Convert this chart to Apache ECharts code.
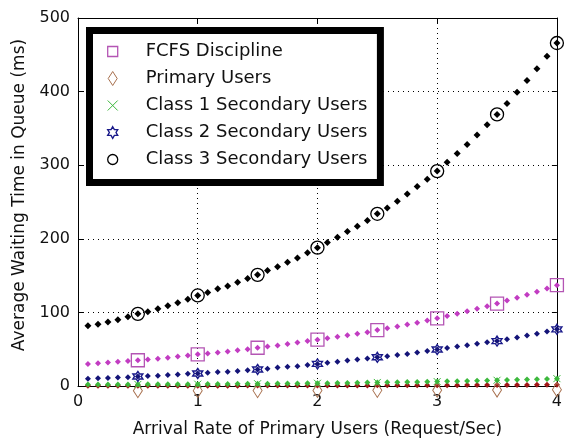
<!DOCTYPE html>
<html>
<head>
<meta charset="utf-8">
<script src="https://cdn.jsdelivr.net/npm/echarts@6/dist/echarts.min.js"></script>
<style>
html,body{margin:0;padding:0;background:#fff;}
#chart{width:565px;height:444px;}
</style>
</head>
<body>
<div id="chart"></div>
<script>
// Sample positions along x (arrival rate)
const xValues = [0.083,0.167,0.25,0.333,0.417,0.5,0.583,0.667,0.75,0.833,0.917,1,
  1.083,1.167,1.25,1.333,1.417,1.5,1.583,1.667,1.75,1.833,1.917,2,
  2.083,2.167,2.25,2.333,2.417,2.5,2.583,2.667,2.75,2.833,2.917,3,
  3.083,3.167,3.25,3.333,3.417,3.5,3.583,3.667,3.75,3.833,3.917,4];

const fcfs = [30,31,32,33,34,35, 36,37,38.5,40,41.5,43,
  44,45.5,47,48.5,50,52, 53.5,55,57,59,61,63,
  65,67,69,71,73,76, 78.5,81,83.5,86,89,92,
  95,98,101.5,105,108.5,112, 116,120,124,128,132.5,137];

const primary = [0.3,0.3,0.3,0.3,0.3,0.35, 0.35,0.35,0.4,0.4,0.4,0.45,
  0.45,0.5,0.5,0.5,0.55,0.55, 0.6,0.6,0.6,0.65,0.65,0.7,
  0.7,0.75,0.75,0.8,0.8,0.85, 0.9,0.9,0.95,1,1,1.05,
  1.1,1.15,1.2,1.25,1.3,1.35, 1.4,1.45,1.5,1.6,1.7,1.8];

const class1 = [2,2,2,2,2,2.2, 2.3,2.3,2.4,2.4,2.5,2.5,
  2.6,2.7,2.8,2.9,3,3.1, 3.2,3.3,3.4,3.5,3.6,3.7,
  3.9,4,4.2,4.4,4.6,4.8, 5,5.2,5.4,5.6,5.8,6,
  6.3,6.6,6.9,7.2,7.5,7.8, 8.1,8.4,8.8,9.2,9.6,10];

const class2 = [10,10.5,11,11.5,12,13, 13.5,14,15,15.5,16.5,17,
  18,19,19.5,20.5,21.5,22.5, 23.5,25,26,27,28.5,30,
  31.5,33,34.5,36,37.5,39, 40.5,42,43.5,45.5,47.5,49.5,
  51.5,53.5,55.5,57.5,59.5,61, 63.5,66,68.5,71,74,77];

const class3 = [82,84,87,90,94,98, 101,105,109,113,118,123,
  127,132,136,141,146,151, 157,162,168,174,181,188,
  195,202,210,217,225,234, 242,251,261,271,281,292,
  304,316,328,341,355,369, 384,399,415,431,448,466];

// indices of the samples that carry the big markers (x = 0.5, 1, ..., 4)
const markerIdx = [5,11,17,23,29,35,41,47];

const seriesNames = ['FCFS Discipline','Primary Users','Class 1 Secondary Users','Class 2 Secondary Users','Class 3 Secondary Users'];

const FONT = 'DejaVu Sans';
const sqPath = 'path://M-5,-5L5,-5L5,5L-5,5Z';
const diaPath = 'path://M0,-7L4.5,0L0,7L-4.5,0Z';
const xPath = 'path://M-5,-5L5,5M5,-5L-5,5';
const hexPath = 'path://M0,-10L2.887,-5L8.66,-5L5.77,0L8.66,5L2.887,5L0,10L-2.887,5L-8.66,5L-5.77,0L-8.66,-5L-2.887,-5Z';

const styles = [
  {vals: fcfs, dot: '#c23cc2', dotSize: 6, mk: '#b455b4', sym: sqPath, size: 13, bw: 1.3},
  {vals: primary, dot: '#a01818', dotSize: 6, mk: '#a8704e', sym: diaPath, size: [9,14], bw: 1, offset: [0,5]},
  {vals: class1, dot: '#3cb83c', dotSize: 6, mk: '#3cb83c', sym: xPath, size: 7, bw: 1},
  {vals: class2, dot: '#141478', dotSize: 6, mk: '#1a1a8a', sym: hexPath, size: 10, bw: 1.4},
  {vals: class3, dot: '#000000', dotSize: 7, mk: '#000000', sym: 'circle', size: 13, bw: 1.3}
];

const series = [];
styles.forEach((s, i) => {
  series.push({
    name: seriesNames[i] + ' (curve)',
    type: 'scatter',
    data: xValues.map((x, j) => [x, s.vals[j]]),
    symbol: 'diamond',
    symbolSize: s.dotSize,
    itemStyle: {color: s.dot, opacity: 1},
    z: 2 + i * 2,
    clip: false,
    silent: true
  });
  series.push({
    name: seriesNames[i],
    type: 'scatter',
    data: markerIdx.map(j => [xValues[j], s.vals[j]]),
    symbol: s.sym,
    symbolSize: s.size,
    symbolOffset: s.offset || [0,0],
    itemStyle: {color: 'rgba(0,0,0,0)', borderColor: s.mk, borderWidth: s.bw, opacity: 1},
    z: 3 + i * 2,
    clip: false,
    silent: true
  });
});

const legendIcons = [sqPath, diaPath, xPath, hexPath, 'circle'];

const chart = echarts.init(document.getElementById('chart'), null, {renderer: 'canvas'});
chart.setOption({
  animation: false,
  backgroundColor: '#fff',
  grid: {left: 78, right: 2, top: 18, bottom: 58, containLabel: false},
  xAxis: [{
    type: 'value', min: 0, max: 4, interval: 1,
    name: 'Arrival Rate of Primary Users (Request/Sec)',
    nameLocation: 'middle', nameGap: 35,
    nameTextStyle: {fontFamily: FONT, fontSize: 17, color: '#111'},
    axisLine: {show: true, onZero: false, lineStyle: {color: '#000', width: 1}},
    axisTick: {show: true, inside: true, length: 5, lineStyle: {color: '#000'}},
    axisLabel: {fontFamily: FONT, fontSize: 16, color: '#111', margin: 8},
    splitLine: {show: true, lineStyle: {color: '#000', width: 1, type: [1, 4]}}
  }, {
    type: 'value', min: 0, max: 4, interval: 1, position: 'top',
    axisLine: {show: true, onZero: false, lineStyle: {color: '#000', width: 1}},
    axisTick: {show: true, inside: true, length: 5, lineStyle: {color: '#000'}},
    axisLabel: {show: false}, splitLine: {show: false}
  }],
  yAxis: [{
    type: 'value', min: 0, max: 500, interval: 100,
    name: 'Average Waiting Time in Queue (ms)',
    nameLocation: 'middle', nameGap: 47,
    nameTextStyle: {fontFamily: FONT, fontSize: 17, color: '#111', padding: [0, 0, 0, 14]},
    axisLine: {show: true, onZero: false, lineStyle: {color: '#000', width: 1}},
    axisTick: {show: true, inside: true, length: 5, lineStyle: {color: '#000'}},
    axisLabel: {fontFamily: FONT, fontSize: 16, color: '#111', margin: 8},
    splitLine: {show: true, lineStyle: {color: '#000', width: 1, type: [1, 4]}}
  }, {
    type: 'value', min: 0, max: 500, interval: 100, position: 'right',
    axisLine: {show: true, onZero: false, lineStyle: {color: '#000', width: 1}},
    axisTick: {show: true, inside: true, length: 5, lineStyle: {color: '#000'}},
    axisLabel: {show: false}, splitLine: {show: false}
  }],
  legend: {
    data: seriesNames.map((n, i) => ({
      name: n, icon: legendIcons[i],
      itemStyle: {color: 'rgba(0,0,0,0)', borderColor: styles[i].mk, borderWidth: styles[i].bw}
    })),
    orient: 'vertical',
    left: 89.5, top: 30.5,
    itemWidth: 10, itemHeight: 14, itemGap: 7,
    padding: [11, 13, 13, 17.5],
    borderColor: '#000', borderWidth: 7, backgroundColor: '#fff',
    selectedMode: false,
    textStyle: {fontFamily: FONT, fontSize: 18, color: '#111', lineHeight: 20, padding: [0, 0, 0, 23]}
  },
  series: series
});
</script>
</body>
</html>
